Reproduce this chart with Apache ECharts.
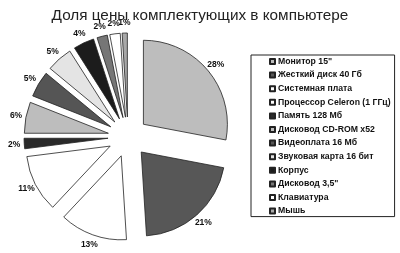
<!DOCTYPE html>
<html>
<head>
<meta charset="utf-8">
<script src="https://cdn.jsdelivr.net/npm/echarts@6/dist/echarts.min.js"></script>
<style>html,body{margin:0;padding:0;background:#fff}#c{width:400px;height:253px}</style>
</head>
<body>
<div id="c"></div>
<script>
const titleText = 'Доля цены комплектующих в компьютере';
const categories = ['Монитор 15"', 'Жесткий диск 40 Гб', 'Системная плата', 'Процессор Celeron (1 ГГц)', 'Память 128 Мб', 'Дисковод CD-ROM x52', 'Видеоплата 16 Мб', 'Звуковая карта 16 бит', 'Корпус', 'Дисковод 3,5"', 'Клавиатура', 'Мышь'];
const values = [28, 21, 13, 11, 2, 6, 5, 5, 4, 2, 2, 1];
const colors = ['#bdbdbd', '#575757', '#ffffff', '#ffffff', '#2a2a2a', '#bdbdbd', '#555555', '#e4e4e4', '#1c1c1c', '#767676', '#ffffff', '#a8a8a8'];

const chart = echarts.init(document.getElementById('c'), null, {renderer: 'canvas'});
const pieData = categories.map((n, i) => ({
  name: n, value: values[i], selected: true,
  itemStyle: {color: colors[i]}
}));
const labelData = categories.map((n, i) => ({
  name: n, value: values[i], selected: true
}));
const pieCenter = [128, 137];
chart.setOption({
  animation: false,
  backgroundColor: '#ffffff',
  title: {
    text: titleText, left: 'center', top: 3,
    textStyle: {fontFamily: 'Liberation Sans, Arial, sans-serif', fontSize: 15.3, fontWeight: 'normal', color: '#222'}
  },
  legend: {
    orient: 'vertical', left: 251, top: 55,
    padding: [2, 4, 1, 18],
    icon: 'rect',
    itemWidth: 5, itemHeight: 5, itemGap: 4.6,
    borderColor: '#222', borderWidth: 1,
    selectedMode: false,
    textStyle: {fontFamily: 'Liberation Sans, Arial, sans-serif', fontSize: 8.7, fontWeight: 'bold', color: '#111', padding: [0, 0, 0, -2]},
    data: categories
  },
  series: [{
    type: 'pie',
    center: pieCenter,
    radius: [0, 84],
    startAngle: 90,
    clockwise: true,
    selectedMode: 'multiple',
    selectedOffset: 20,
    itemStyle: {borderColor: '#222', borderWidth: 0.8},
    select: {itemStyle: {borderColor: '#222', borderWidth: 0.8}},
    emphasis: {disabled: true},
    label: {show: false},
    labelLine: {show: false},
    data: pieData
  }, {
    type: 'pie',
    center: pieCenter,
    radius: [85, 97],
    startAngle: 90,
    clockwise: true,
    silent: true,
    selectedMode: 'multiple',
    selectedOffset: 20,
    itemStyle: {color: 'rgba(0,0,0,0)', borderWidth: 0},
    select: {itemStyle: {color: 'rgba(0,0,0,0)', borderWidth: 0}},
    emphasis: {disabled: true},
    label: {
      show: true, position: 'inside',
      formatter: '{c}%',
      fontFamily: 'Liberation Sans, Arial, sans-serif', fontSize: 8.5, fontWeight: 'bold', color: '#111'
    },
    labelLine: {show: false},
    labelLayout: {hideOverlap: false},
    data: labelData
  }]
});
</script>
</body>
</html>
